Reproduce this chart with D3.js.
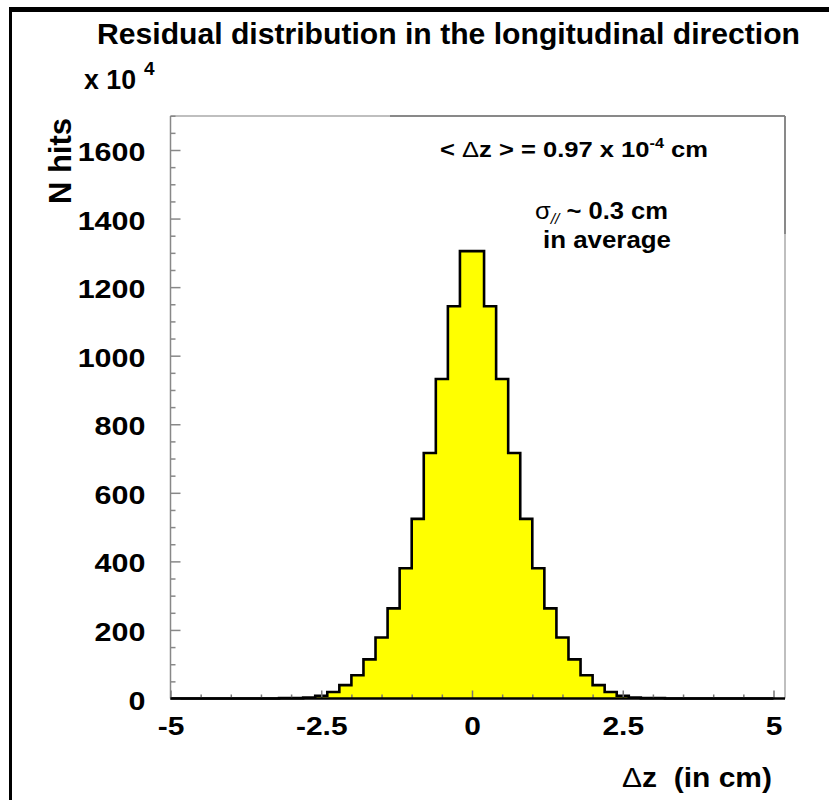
<!DOCTYPE html>
<html><head><meta charset="utf-8">
<script src="https://cdn.jsdelivr.net/npm/d3@7"></script>
<style>
body{margin:0;background:#fff}
svg{display:block}
text{font-family:"Liberation Sans",Arial,Helvetica,sans-serif}
</style>
</head><body>
<svg id="c" width="829" height="800"></svg>
<script>
// ---- data ----
const binLeftEdges = [-5.0,-4.8,-4.6,-4.4,-4.2,-4.0,-3.8,-3.6,-3.4,-3.2,
  -3.0,-2.8,-2.6,-2.4,-2.2,-2.0,-1.8,-1.6,-1.4,-1.2,
  -1.0,-0.8,-0.6,-0.4,-0.2,0.0,0.2,0.4,0.6,0.8,
  1.0,1.2,1.4,1.6,1.8,2.0,2.2,2.4,2.6,2.8,
  3.0,3.2,3.4,3.6,3.8,4.0,4.2,4.4,4.6,4.8];
const binWidth = 0.2;
const hitCounts = [0,0,0,0,0,0,0,0,0,1,
  1,3,8,19,39,68,114,178,263,380,
  524,716,932,1144,1305,1305,1144,932,716,524,
  380,263,178,114,68,39,19,8,3,1,
  1,0,0,0,0,0,0,0,0,0];
const xMajorTicks = [-5,-2.5,0,2.5,5];
const xTickLabels = ["-5","-2.5","0","2.5","5"];
const yMajorTicks = [0,200,400,600,800,1000,1200,1400,1600];
const yTickLabels = ["0","200","400","600","800","1000","1200","1400","1600"];
const titleText = "Residual distribution in the longitudinal direction";
const yAxisTitle = "N hits";
const scaleNote = "x 10";
const scaleExp = "4";

// ---- layout ----
const svg = d3.select("#c");
const pL = 170.5, pR = 785, pT = 116, pB = 698.5;
const x = d3.scaleLinear().domain([-5,5]).range([170.5,773.5]);
const y = d3.scaleLinear().domain([0,1600]).range([698.5,150]);

svg.append("rect").attr("width",829).attr("height",800).attr("fill","#fff");

// outer black frame (top and left)
svg.append("rect").attr("x",9).attr("y",7).attr("width",830).attr("height",5).attr("fill","#000");
svg.append("rect").attr("x",9).attr("y",7).attr("width",3).attr("height",800).attr("fill","#000");

// plot frame
svg.append("line").attr("x1",pL).attr("x2",pR).attr("y1",pT).attr("y2",pT).attr("stroke","#aaa").attr("stroke-width",1.5);
svg.append("line").attr("x1",390).attr("x2",pR).attr("y1",pT).attr("y2",pT).attr("stroke","#777").attr("stroke-width",1.5);
svg.append("line").attr("x1",pR).attr("x2",pR).attr("y1",pT).attr("y2",pB).attr("stroke","#aaa").attr("stroke-width",1.5);
svg.append("line").attr("x1",pR).attr("x2",pR).attr("y1",pT).attr("y2",234).attr("stroke","#777").attr("stroke-width",1.5);

// histogram
const pts = binLeftEdges.map((e,i)=>({x:e,v:hitCounts[i]}));
pts.push({x:binLeftEdges[binLeftEdges.length-1]+binWidth, v:0});
const area = d3.area().x(d=>x(d.x)).y0(y(0)).y1(d=>y(d.v)).curve(d3.curveStepAfter);
svg.append("path").datum(pts).attr("d",area).attr("fill","#ffff00");
const line = d3.line().x(d=>x(d.x)).y(d=>y(d.v)).curve(d3.curveStepAfter);
svg.append("path").datum(pts).attr("d",line).attr("fill","none").attr("stroke","#000").attr("stroke-width",2.6).attr("stroke-linejoin","miter");

// y axis
const yMinor = d3.range(0,1701,50).filter(v=>v%200!==0);
const gyMinor = svg.append("g").attr("transform",`translate(${pL},0)`)
  .call(d3.axisLeft(y).tickValues(yMinor).tickSize(-5).tickSizeOuter(0).tickFormat(""));
gyMinor.select(".domain").remove();
gyMinor.selectAll("line").attr("stroke","#888").attr("stroke-width",1.5);
const gy = svg.append("g").attr("transform",`translate(${pL},0)`)
  .call(d3.axisLeft(y).tickValues(yMajorTicks).tickSize(-10).tickSizeOuter(0).tickPadding(25)
    .tickFormat((d,i)=>yTickLabels[i]));
gy.select(".domain").remove();
gy.selectAll("line").attr("stroke","#888").attr("stroke-width",1.5);
gy.selectAll("text").attr("font-size",25).attr("font-weight","bold").attr("fill","#000")
  .attr("dy","0.42em").attr("font-family","'Liberation Sans',Arial,sans-serif");
gy.selectAll("text").each(function(){const n=this.getComputedTextLength();d3.select(this).attr("textLength",n*1.22).attr("lengthAdjust","spacingAndGlyphs");});
svg.append("line").attr("x1",pL).attr("x2",pL).attr("y1",pT).attr("y2",pB).attr("stroke","#888").attr("stroke-width",1.5);

// x axis
const xMinor = d3.range(-5,5.01,0.5).filter(v=>!xMajorTicks.includes(v));
const gxMinor = svg.append("g").attr("transform",`translate(0,${pB})`)
  .call(d3.axisBottom(x).tickValues(xMinor).tickSize(-4).tickSizeOuter(0).tickFormat(""));
gxMinor.select(".domain").remove();
gxMinor.selectAll("line").attr("stroke","#777").attr("stroke-width",1.5);
const gx = svg.append("g").attr("transform",`translate(0,${pB})`)
  .call(d3.axisBottom(x).tickValues(xMajorTicks).tickSize(-8).tickSizeOuter(0).tickPadding(18)
    .tickFormat((d,i)=>xTickLabels[i]));
gx.select(".domain").remove();
gx.selectAll("line").attr("stroke","#777").attr("stroke-width",1.5);
gx.selectAll("text").attr("font-size",26).attr("font-weight","bold").attr("fill","#000")
  .attr("font-family","'Liberation Sans',Arial,sans-serif");
gx.selectAll("text").each(function(){const n=this.getComputedTextLength();d3.select(this).attr("textLength",n*1.15).attr("lengthAdjust","spacingAndGlyphs");});
svg.append("line").attr("x1",pL).attr("x2",pR).attr("y1",pB).attr("y2",pB).attr("stroke","#000").attr("stroke-width",2.4);

// title
svg.append("text").attr("x",97).attr("y",44).attr("font-size",30).attr("font-weight","bold")
  .attr("textLength",703).attr("lengthAdjust","spacingAndGlyphs").text(titleText);

// x 10^4
svg.append("text").attr("x",84).attr("y",89).attr("font-size",28).attr("font-weight","bold")
  .attr("textLength",52).attr("lengthAdjust","spacingAndGlyphs").text(scaleNote);
svg.append("text").attr("x",144).attr("y",75).attr("font-size",19).attr("font-weight","bold").text(scaleExp);

// y axis title
svg.append("text").attr("transform","translate(71,161) rotate(-90)").attr("text-anchor","middle")
  .attr("font-size",31).attr("font-weight","bold").text(yAxisTitle);

// annotations
const a1 = svg.append("text").attr("x",440).attr("y",157).attr("font-size",22).attr("font-weight","bold")
  .attr("textLength",268).attr("lengthAdjust","spacingAndGlyphs");
a1.append("tspan").text("< ");
a1.append("tspan").attr("font-weight","normal").text("Δ");
a1.append("tspan").text("z > = 0.97 x 10");
a1.append("tspan").attr("font-size",14).attr("dy",-9).text("-4");
a1.append("tspan").attr("dy",9).text(" cm");

const a2 = svg.append("text").attr("x",535).attr("y",219).attr("font-size",23).attr("font-weight","bold")
  .attr("textLength",133).attr("lengthAdjust","spacingAndGlyphs");
a2.append("tspan").attr("font-weight","normal").text("σ");
a2.append("tspan").attr("font-size",14).attr("font-style","italic").attr("font-weight","normal").attr("dy",5).text("//");
a2.append("tspan").attr("dy",-5).text(" ~ 0.3 cm");
svg.append("text").attr("x",543).attr("y",248).attr("font-size",23).attr("font-weight","bold")
  .attr("textLength",128).attr("lengthAdjust","spacingAndGlyphs").text("in average");

// x axis title
const xt = svg.append("text").attr("x",622).attr("y",787).attr("font-size",27).attr("font-weight","bold")
  .style("white-space","pre").attr("textLength",150).attr("lengthAdjust","spacingAndGlyphs");
xt.append("tspan").attr("font-weight","normal").text("Δ");
xt.append("tspan").text("z  (in cm)");
</script>
</body></html>
